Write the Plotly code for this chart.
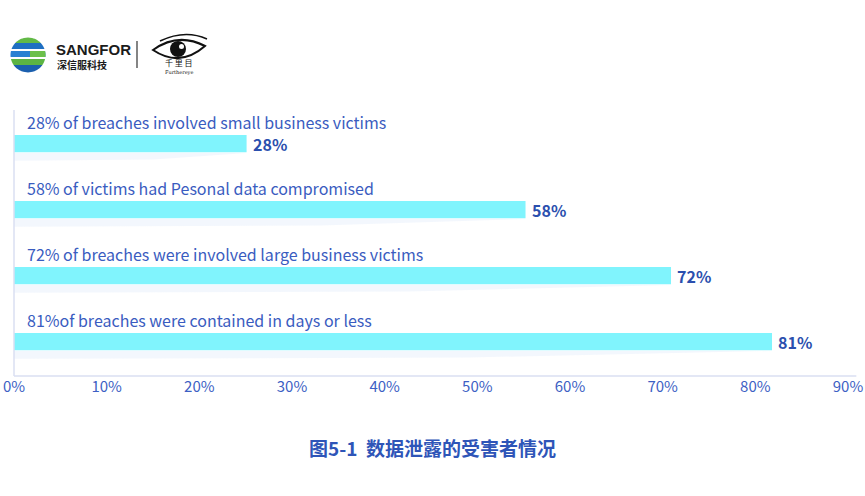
import math
import plotly.graph_objects as go

# ---------------- data ----------------
categories = [
    "28% of breaches involved small business victims",
    "58% of victims had Pesonal data compromised",
    "72% of breaches were involved large business victims",
    "81%of breaches were contained in days or less",
]
bar_values = [25.1, 55.2, 70.9, 81.8]          # drawn bar lengths (%)
value_labels = ["28%", "58%", "72%", "81%"]    # printed labels
tick_vals = [0, 10, 20, 30, 40, 50, 60, 70, 80, 90]
tick_text = ["0%", "10%", "20%", "30%", "40%", "50%", "60%", "70%", "80%", "90%"]
caption = "图5-1  数据泄露的受害者情况"

FONT = "Noto Sans CJK SC, Noto Sans, sans-serif"
BLUE_TXT = "#3a5cc0"
BLUE_VAL = "#2b4fae"
BAR = "#80f4fd"
AXIS = "#dadff2"

W, H = 865, 496
L, R, T, B = 14, 17, 110, 120
PW, PH = W - L - R, H - T - B

def px(x):
    return (x - L) / PW

def py(y):
    return (H - B - y) / PH

ypos = list(range(len(categories)))

fig = go.Figure()
fig.add_trace(go.Bar(
    x=bar_values, y=ypos, orientation="h", width=0.26,
    marker=dict(color=BAR, line=dict(width=0)),
    cliponaxis=False, hoverinfo="skip",
))

annotations = []
for i, c in enumerate(categories):
    annotations.append(dict(
        x=0, y=i, xref="x", yref="y", text=c, showarrow=False,
        xanchor="left", yanchor="middle", xshift=11, yshift=22,
        font=dict(family=FONT, size=16, color=BLUE_TXT),
    ))
    annotations.append(dict(
        x=bar_values[i], y=i, xref="x", yref="y", text="<b>" + value_labels[i] + "</b>",
        showarrow=False, xanchor="left", yanchor="middle", xshift=4, yshift=0,
        font=dict(family=FONT, size=16, color=BLUE_VAL),
    ))

# caption
annotations.append(dict(
    x=px(432), y=py(447), xref="paper", yref="paper", text="<b>" + caption + "</b>",
    showarrow=False, xanchor="center", yanchor="middle",
    font=dict(family=FONT, size=19, color="#2e55b8"),
))

# ---- logo texts ----
annotations += [
    dict(x=px(54), y=py(50), xref="paper", yref="paper", text="<b>SANGFOR</b>",
         showarrow=False, xanchor="left", yanchor="middle",
         font=dict(family="Liberation Sans, Arial, sans-serif", size=15, color="#1b1b1b")),
    dict(x=px(55), y=py(64), xref="paper", yref="paper", text="<b>深信服科技</b>",
         showarrow=False, xanchor="left", yanchor="middle",
         font=dict(family=FONT, size=10, color="#1b1b1b")),
    dict(x=px(179), y=py(63), xref="paper", yref="paper", text="千 里 目",
         showarrow=False, xanchor="center", yanchor="middle",
         font=dict(family=FONT, size=8, color="#111111")),
    dict(x=px(179), y=py(72), xref="paper", yref="paper", text="Furthereye",
         showarrow=False, xanchor="center", yanchor="middle",
         font=dict(family="DejaVu Serif, serif", size=5, color="#111111")),
]

shapes = []
# axis lines
shapes.append(dict(type="line", xref="paper", yref="paper", x0=0, x1=0, y0=0, y1=1.0,
                   line=dict(color=AXIS, width=1.5)))
shapes.append(dict(type="line", xref="paper", yref="paper", x0=0, x1=1.01, y0=0, y1=0,
                   line=dict(color=AXIS, width=1.5)))

# faint reflections under bars
for i, v in enumerate(bar_values):
    shapes.append(dict(type="path", xref="x", yref="y",
                       path=f"M 0,{i+0.14} L {v},{i+0.14} L {v*0.6},{i+0.24} L 0,{i+0.26} Z",
                       fillcolor="rgba(228,238,250,0.45)", line=dict(width=0), layer="below"))

# logo globe as circle bands
cx, cy, r = 28, 55, 17.5
bands = [
    (cy - r, 43, "#62b946"),
    (43, 49, "#1f6fc2"),
    (49, 51, "#ffffff"),
    (51, 57, "#2a80d2"),
    (57, 59, "#ffffff"),
    (59, 65, "#5cb443"),
    (65, cy + r, "#1b5fae"),
]
for y1, y2, col in bands:
    n = 12
    ys = [y1 + (y2 - y1) * k / n for k in range(n + 1)]
    left = [(cx - math.sqrt(max(r * r - (y - cy) ** 2, 0)), y) for y in ys]
    right = [(cx + math.sqrt(max(r * r - (y - cy) ** 2, 0)), y) for y in reversed(ys)]
    pts = left + right
    path = "M " + " L ".join(f"{px(a):.5f},{py(b):.5f}" for a, b in pts) + " Z"
    shapes.append(dict(type="path", xref="paper", yref="paper", path=path,
                       fillcolor=col, line=dict(width=0)))
# green right half of middle band
n = 12
ys = [51 + 6 * k / n for k in range(n + 1)]
pts = [(cx + 2, y) for y in ys] + [(cx + math.sqrt(r * r - (y - cy) ** 2), y) for y in reversed(ys)]
shapes.append(dict(type="path", xref="paper", yref="paper",
                   path="M " + " L ".join(f"{px(a):.5f},{py(b):.5f}" for a, b in pts) + " Z",
                   fillcolor="#6cc04a", line=dict(width=0)))

# separator
shapes.append(dict(type="line", xref="paper", yref="paper", x0=px(137), x1=px(137),
                   y0=py(41), y1=py(68), line=dict(color="#333333", width=1.2)))

# eye outline
def P(a, b):
    return f"{px(a):.5f},{py(b):.5f}"
eye = f"M {P(153,50)} Q {P(178,32)} {P(205,46)} Q {P(180,68)} {P(153,50)} Z"
shapes.append(dict(type="path", xref="paper", yref="paper", path=eye,
                   fillcolor="rgba(0,0,0,0)", line=dict(color="#111111", width=2)))
shapes.append(dict(type="path", xref="paper", yref="paper",
                   path=f"M {P(160,41)} Q {P(185,29)} {P(207,39)}",
                   line=dict(color="#111111", width=1.5)))
shapes.append(dict(type="circle", xref="paper", yref="paper",
                   x0=px(170), x1=px(186), y0=py(57), y1=py(41),
                   fillcolor="#111111", line=dict(width=0)))
shapes.append(dict(type="circle", xref="paper", yref="paper",
                   x0=px(179), x1=px(184), y0=py(49), y1=py(44),
                   fillcolor="#ffffff", line=dict(width=0)))

fig.update_layout(
    width=W, height=H,
    margin=dict(l=L, r=R, t=T, b=B, pad=0, autoexpand=False),
    paper_bgcolor="white", plot_bgcolor="white",
    showlegend=False,
    xaxis=dict(range=[0, 90], tickvals=tick_vals, ticktext=tick_text, automargin=False,
               showgrid=False, zeroline=False, showline=False, ticks="",
               tickfont=dict(family=FONT, size=15, color="#3d5fc4"), fixedrange=True),
    yaxis=dict(range=[3.52, -0.51], showticklabels=False, showgrid=False, automargin=False,
               zeroline=False, showline=False, ticks="", fixedrange=True),
    annotations=annotations,
    shapes=shapes,
)

fig.write_html("out.html")
